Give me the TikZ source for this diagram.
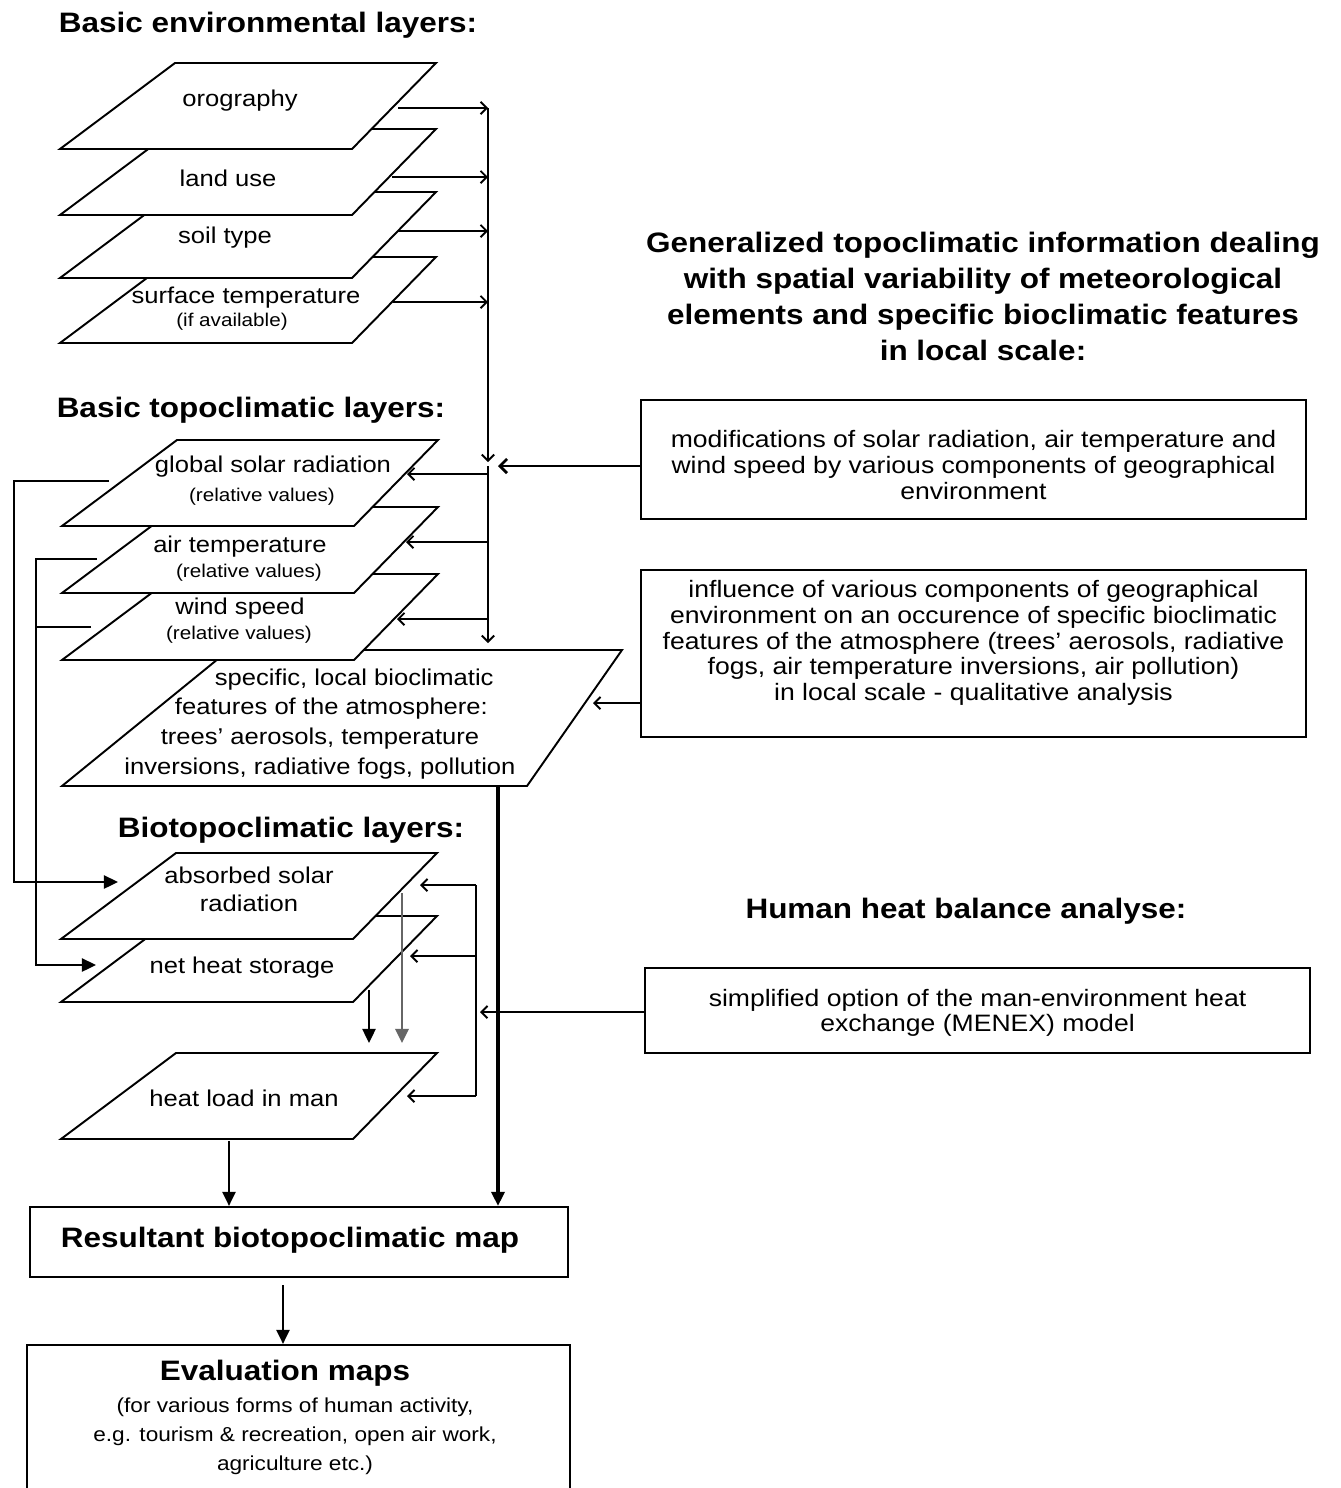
\documentclass[tikz,border=0pt]{standalone}
\usepackage{fontspec}
\setmainfont{Liberation Sans}[FakeStretch=1.12]
\usetikzlibrary{arrows.meta}
\newcommand{\drawlayer}[2]{\draw[layer] (#1,#2+86) -- (#1+115,#2) -- (#1+376,#2) -- (#1+292,#2+86) -- cycle;}
\begin{document}
\begin{tikzpicture}[x=0.02cm,y=-0.02cm, line width=1.1pt, line join=miter,
  layer/.style={draw=black, fill=white, line width=1.1pt},
  lbl/.style={inner sep=0pt, font=\fontsize{13}{15}\selectfont},
  small/.style={inner sep=0pt, font=\fontsize{10.5}{12}\selectfont},
  head/.style={inner sep=0pt, align=center, font=\bfseries\fontsize{16}{20.5}\selectfont},
  boxtxt/.style={inner sep=0pt, align=center, font=\fontsize{13.5}{14.6}\selectfont},
  rbox/.style={draw, line width=1.3pt, inner sep=0pt},
  opn/.style={-{Straight Barb[length=3.5pt,width=7pt]}},
  fil/.style={-{Triangle[length=8pt,width=7.5pt]}},
]
\useasboundingbox (0,0) rectangle (1341,1488);
\clip (0,0) rectangle (1341,1488);
\fill[white] (0,0) rectangle (1341,1488);

% ---------- headings
\node[head] (h1) at (268,25) {Basic environmental layers:};
\node[head] (h2) at (251,410) {Basic topoclimatic layers:};
\node[head] (h3) at (291,830) {Biotopoclimatic layers:};
\node[head] (h4) at (983,296) {Generalized topoclimatic information dealing\\with spatial variability of meteorological\\elements and specific bioclimatic features\\in local scale:};
\node[head] (h5) at (966,911) {Human heat balance analyse:};

% ---------- basic environmental layers
\drawlayer{60}{257}
\drawlayer{60}{192}
\drawlayer{60}{129}
\drawlayer{60}{63}
\node[lbl] (oro) at (240,101) {orography};
\node[lbl] (lu) at (228,178) {land use};
\node[lbl] (st) at (225,238) {soil type};
\node[lbl] (sf) at (246,298) {surface temperature};
\node[small] (sf2) at (232,322) {(if available)};

% ---------- basic topoclimatic layers
\draw[layer] (62,786) -- (229,650) -- (622,650) -- (527,786) -- cycle;
\drawlayer{62}{574}
\drawlayer{62}{507}
\drawlayer{62}{440}
\node[lbl] (gs) at (273,467) {global solar radiation};
\node[small] (gs2) at (262,497) {(relative values)};
\node[lbl] (at) at (240,547) {air temperature};
\node[small] (at2) at (249,573) {(relative values)};
\node[lbl] (ws) at (240,609) {wind speed};
\node[small] (ws2) at (239,635) {(relative values)};
\node[lbl, align=center, font=\fontsize{13}{17}\selectfont] (sp) at (320,724) {\hspace*{3em}specific, local bioclimatic\\\hspace*{1em}features of the atmosphere:\\trees' aerosols, temperature\\inversions, radiative fogs, pollution};

% ---------- biotopoclimatic layers
\drawlayer{61}{916}
\drawlayer{61}{853}
\drawlayer{61}{1053}
\node[lbl, align=center, font=\fontsize{13}{16}\selectfont] (ab) at (249,889) {absorbed solar\\radiation};
\node[lbl] (nh) at (242,968) {net heat storage};
\node[lbl] (hl) at (244,1098) {heat load in man};

% ---------- boxes
\node[rbox, minimum width=13.3cm, minimum height=2.38cm] (box1) at (973.5,459.5) {};
\node[boxtxt] (box1t) at (973.5,465) {modifications of solar radiation, air temperature and\\wind speed by various components of geographical\\environment};
\node[rbox, minimum width=13.3cm, minimum height=3.34cm] (box2) at (973.5,653.5) {};
\node[boxtxt] (box2t) at (973.5,643) {influence of various components of geographical\\environment on an occurence of specific bioclimatic\\features of the atmosphere (trees' aerosols, radiative\\fogs, air temperature inversions, air pollution)\\in local scale - qualitative analysis};
\node[rbox, minimum width=13.3cm, minimum height=1.7cm] (box3) at (977.5,1010.5) {};
\node[boxtxt] (box3t) at (977.5,1013) {simplified option of the man-environment heat\\exchange (MENEX) model};
\node[rbox, minimum width=10.76cm, minimum height=1.4cm] (res) at (299,1242) {};
\node[head] (rest) at (290,1240) {Resultant biotopoclimatic map};
\node[rbox, minimum width=10.86cm, minimum height=3cm] (ev) at (298.5,1420) {};
\node[head] (evt) at (285,1373) {Evaluation maps};
\node[inner sep=0pt, align=center, font=\fontsize{11.5}{16.5}\selectfont] (evs) at (295,1436) {(for various forms of human activity,\\e.g. tourism \& recreation, open air work,\\agriculture etc.)};

% ---------- coordinates
\coordinate (oro-e) at (398,108);
\coordinate (lu-e) at (392,177);
\coordinate (st-e) at (398,231);
\coordinate (sf-e) at (393,302);
\coordinate (colA) at (488,108);
\coordinate (colAe) at (488,462);
\coordinate (colB) at (488,466);
\coordinate (colBe) at (488,643);
\coordinate (b1tip) at (498,466);
\coordinate (gs-e) at (407,474);
\coordinate (at-e) at (406,542);
\coordinate (ws-e) at (397,619);
\coordinate (sp-e) at (593,703);
\coordinate (sp-s) at (498,787);
\coordinate (gs-w) at (109,481);
\coordinate (at-w) at (97,559);
\coordinate (ws-w) at (91,627);
\coordinate (ab-w) at (118,882);
\coordinate (nh-w) at (96,965);
\coordinate (fbA) at (14,481);
\coordinate (fbB) at (36,559);
\coordinate (dA) at (476,885);
\coordinate (dC) at (476,1096);
\coordinate (dtip) at (480,1012);
\coordinate (ab-e) at (420,885);
\coordinate (nh-e) at (410,956);
\coordinate (hl-e) at (407,1096);
\coordinate (ab-s) at (402,893);
\coordinate (nh-s) at (369,990);
\coordinate (hl-n) at (402,1043);
\coordinate (hl-s) at (229,1141);
\coordinate (res-s) at (283,1285);

% ---------- connectors: environmental -> collector
\draw[opn] (oro-e) -- (oro-e -| colA);
\draw[opn] (lu-e) -- (lu-e -| colA);
\draw[opn] (st-e) -- (st-e -| colA);
\draw[opn] (sf-e) -- (sf-e -| colA);
\draw[opn] (colA) -- (colAe);
\draw[opn] (colB) -- (colBe);
\draw[-{Straight Barb[length=4pt,width=8pt,line width=1.6pt]}] (box1.west |- colB) -- (b1tip);
\draw[opn] (gs-e -| colB) -- (gs-e);
\draw[opn] (at-e -| colB) -- (at-e);
\draw[opn] (ws-e -| colB) -- (ws-e);
\draw[opn] (box2.west |- sp-e) -- (sp-e);

% ---------- feedback to biotopoclimatic layers
\draw[fil] (gs-w) -- (fbA) -- (fbA |- ab-w) -- (ab-w);
\draw[fil] (at-w) -- (fbB) -- (fbB |- nh-w) -- (nh-w);
\draw (ws-w) -- (ws-w -| fbB);

% ---------- MENEX distribution
\draw[line width=1.8pt, fil] (sp-s) -- (sp-s |- res.north);
\draw[opn] (box3.west |- dtip) -- (dtip);
\draw[opn] (dA) -- (ab-e);
\draw (dA) -- (dC);
\draw[opn] (nh-e -| dA) -- (nh-e);
\draw[opn] (dC) -- (hl-e);
\draw[fil, line width=1.6pt, draw=black!60, fill=black] (ab-s) -- (hl-n);
\draw[fil] (nh-s) -- (nh-s |- hl-n);

% ---------- results
\draw[fil] (hl-s) -- (hl-s |- res.north);
\draw[fil] (res-s) -- (res-s |- ev.north);
\end{tikzpicture}
\end{document}
